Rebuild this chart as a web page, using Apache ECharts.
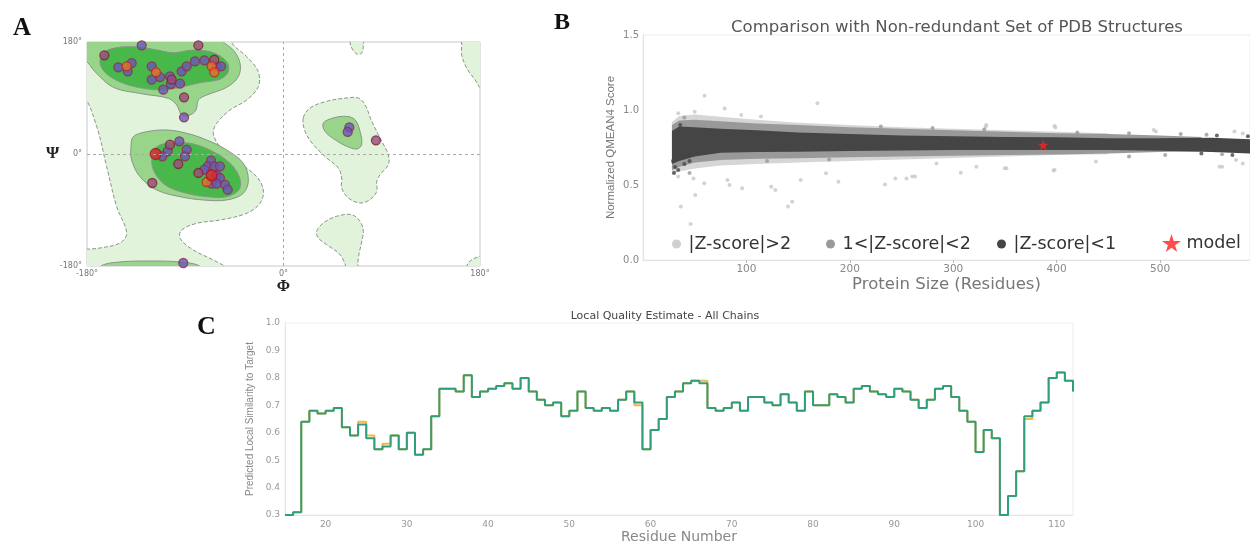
<!DOCTYPE html>
<html>
<head>
<meta charset="utf-8">
<title>Model quality</title>
<style>
  html, body { margin: 0; padding: 0; background: #fff; }
  #chart { width: 1250px; height: 545px; }
</style>
</head>
<body>
<div id="chart"></div>
<script src="https://cdn.jsdelivr.net/npm/echarts@6/dist/echarts.min.js"></script>
<script>
// ---------- A: Ramachandran plot (phi, psi in degrees) ----------
var phiTicks = [-180, 0, 180];
var psiTicks = [-180, 0, 180];

// allowed (light) regions
var allowedLeft = [[-200,200],[-49,200],[-47,178],[-33.7,156.4],[-23.1,132.3],[-23.1,108.2],[-33.7,86.8],[-49,70.7],
  [-61.2,49.3],[-64.3,33.3],[-58.2,11.7],[-39.8,-14.9],[-24.5,-36.5],[-18.5,-57.9],[-21.5,-79.2],[-33.7,-95.3],
  [-58.2,-106.1],[-79.5,-111.4],[-93.2,-122.1],[-94.8,-135.5],[-82.6,-154.3],[-64.3,-170.4],[-51,-185],[-50,-200],
  [-200,-200],[-200,-160],[-168.1,-151.1],[-149.8,-143.0],[-143.6,-127.0],[-152.8,-84.7],[-162.0,-20.4],
  [-171.1,43.9],[-184,95],[-200,100]];
var allowedRightMid = [[18.1,57.9],[24.3,73.9],[39.6,84.7],[57.9,90.0],[68.5,90.0],[74.7,79.2],[80.8,52.6],[90.0,20.4],
  [96.0,-1.1],[96.0,-17.2],[88.4,-33.3],[85.4,-43.9],[85.4,-59.9],[79.2,-73.4],[70.1,-78.7],[59.4,-70.7],[53.3,-54.6],
  [53.3,-38.6],[50.2,-22.5],[39.6,-6.4],[27.3,15.0],[19.7,36.5]];
var allowedTopBlob = [[60,200],[60.9,180],[62.5,170.3],[67.1,160.7],[71.6,162.3],[73.1,173.1],[72,200]];
var allowedTopRight = [[162,200],[163.2,180],[163.2,159.6],[167.8,138.2],[175.4,119.4],[182,104],[200,100],[200,200]];
var allowedBottomMid = [[30.4,-124.2],[36.5,-110.9],[48.7,-100.1],[62.5,-97.5],[70.1,-108.2],[73.1,-124.2],[71,-145.8],
  [68.5,-167.1],[68,-185],[68,-200],[59,-200],[58,-185],[51.8,-161.8],[39.6,-145.8],[31.9,-135]];
var allowedBottomRight = [[165,-200],[167.8,-180],[172.4,-169.9],[182,-164],[200,-160],[200,-200]];

// favoured (medium) regions
var favTop = [[-200,200],[-58,200],[-56,182],[-46,167.1],[-39.8,145.8],[-41.4,124.2],[-52,107.2],[-70.3,94.8],[-78,86.8],
  [-80.2,70.7],[-85.7,62.7],[-93.2,62.7],[-97.8,78.7],[-105.5,89.5],[-128.4,96.4],[-155.9,107.2],[-172.7,132.3],
  [-182,150],[-200,152]];
var favMid = [[-137.6,27.8],[-125.3,35.8],[-107.0,38.6],[-88.7,33.3],[-70.3,22.5],[-52.0,6.4],[-36.8,-14.9],[-32.2,-41.8],
  [-36.8,-63.2],[-52.0,-73.9],[-73.5,-73.9],[-94.8,-68.6],[-116.1,-57.9],[-131.5,-36.5],[-139.1,-9.6],[-139.7,11.7]];
var favBottom = [[-172,-200],[-168,-181],[-153,-174],[-122,-172],[-92,-174],[-76,-181],[-72,-200]];
var favRight = [[36.5,49.8],[45.6,57.9],[57.9,60.5],[65.5,55.1],[70.1,36.5],[71.6,15.0],[67.1,8.0],[57.9,12.3],
  [47.2,23.0],[38.0,36.5]];

// core (dark) regions
var coreTop = [[-165.1,161.8],[-155.9,169.9],[-137.6,172.4],[-119.3,168.3],[-100.9,162.8],[-82.6,167.1],[-64.3,162.8],
  [-52.0,148.3],[-50.6,132.3],[-58.2,120.0],[-76.5,114.6],[-94.8,107.2],[-110.1,102.9],[-128.4,105.6],[-146.7,113.6],
  [-162.0,128.6],[-168.1,145.8]];
var coreMid = [[-116.1,11.7],[-100.9,18.2],[-82.6,16.1],[-64.3,3.7],[-49.0,-14.9],[-40.5,-36.5],[-40.5,-56.7],[-52.0,-68.6],
  [-70.3,-68.6],[-88.7,-63.2],[-107.0,-51.4],[-117.7,-31.0],[-120.7,-9.6]];

// residues
var resPurple = [[-129.9,174.7],[-151.3,139.3],[-139.1,146.2],[-142.7,132.9],[-120.7,140.9],[-113.1,123.7],
  [-120.7,119.4],[-110.1,103.3],[-104.0,124.9],[-103.1,112.5],[-94.8,113.0],[-93.3,132.9],[-88.7,140.9],[-81.1,149.0],
  [-72.5,150.6],[-61.2,140.9],[-57.3,140.9],[-91.1,59.0],[-95.4,20.4],[-88.7,6.9],[-106.1,4.3],[-111.0,-3.7],
  [-90.2,-3.7],[-66.4,-10.8],[-69.4,-19.8],[-63.4,-19.8],[-58.2,-19.8],[-72.5,-25.2],[-61.2,-34.2],[-58.2,-38.6],
  [-65.8,-47.7],[-61.2,-47.7],[-53.6,-49.3],[-51.1,-57.4],[-91.8,-175.2],[60.3,42.9],[58.8,35.4]];
var resMaroon = [[-164.1,158.6],[-78.0,174.7],[-102.4,119.4],[-63.4,151.5],[-91.1,91.1],[-104.0,15.0],[-96.4,-16.1],
  [-78.0,-30.5],[-120.2,-46.6],[84.7,22.0]];
var resOrange = [[-143.6,140.9],[-116.8,131.3],[-65.8,140.9],[-63.4,131.3],[-70.4,-45.0]];
var resRed = [[-117.1,0],[-65.8,-34.2]];

// ---------- B: QMEAN comparison ----------
var sizeTicks = [100, 200, 300, 400, 500];
var scoreTicks = [0, 0.5, 1.0, 1.5];
var lightX = [28, 35, 50, 75, 110, 150, 200, 250, 300, 350, 400, 450];
var lightTop = [0.92, 0.96, 0.97, 0.955, 0.935, 0.915, 0.9, 0.885, 0.875, 0.865, 0.855, 0.845];
var lightBot = [0.57, 0.59, 0.61, 0.63, 0.64, 0.65, 0.66, 0.67, 0.68, 0.69, 0.70, 0.705];
var medX = [28, 35, 50, 75, 110, 150, 200, 250, 300, 350, 400, 450, 500, 540];
var medTop = [0.9, 0.93, 0.935, 0.925, 0.91, 0.9, 0.885, 0.875, 0.865, 0.855, 0.845, 0.84, 0.83, 0.82];
var medBot = [0.6, 0.62, 0.65, 0.667, 0.675, 0.678, 0.685, 0.69, 0.695, 0.70, 0.703, 0.71, 0.72, 0.725];
var darkX = [28, 35, 50, 75, 110, 150, 200, 250, 300, 350, 400, 450, 500, 550, 590];
var darkTop = [0.86, 0.89, 0.885, 0.875, 0.865, 0.85, 0.84, 0.83, 0.825, 0.82, 0.818, 0.812, 0.812, 0.815, 0.805];
var darkBot = [0.64, 0.66, 0.69, 0.715, 0.72, 0.722, 0.727, 0.73, 0.733, 0.733, 0.733, 0.733, 0.728, 0.72, 0.71];
var lightPts = [[59.5,1.095],[168.7,1.045],[79,1.01],[34,0.978],[50,0.989],[95,0.967],[114,0.956],[331.5,0.889],
  [398.7,0.884],[494,0.867],[572,0.856],[332,0.9],[398,0.893],[496,0.856],[580,0.844],
  [34,0.556],[48.8,0.544],[59.3,0.511],[81.6,0.533],[83.7,0.5],[95.9,0.478],[50.5,0.433],[36.6,0.356],[46,0.24],
  [124,0.489],[128,0.467],[144.3,0.389],[140.2,0.356],[152.5,0.533],[177,0.578],[189,0.522],[234,0.504],[244,0.544],
  [260.4,0.556],[307.3,0.582],[350,0.611],[397,0.596],[560,0.622],[580,0.644],[254.8,0.544],[263,0.556],
  [283.8,0.644],[322.4,0.622],[351.4,0.611],[398,0.6],[438,0.656],[557.5,0.622],[573.6,0.667]];
var medPts = [[520,0.84],[545,0.835],[470,0.69],[505,0.7],[560,0.705],[40,0.95],[45,0.58],[230,0.89],[280,0.88],
  [330,0.87],[120,0.66],[180,0.67],[420,0.85],[470,0.845]];
var darkPts = [[30,0.58],[31,0.62],[34,0.6],[29,0.66],[40,0.64],[45,0.66],[36,0.9],[555,0.83],[570,0.7],[585,0.825],[540,0.71]];
var modelPt = [[387, 0.767]];

// ---------- C: local quality ----------
var residueStart = 15;
var residueTicks = [20, 30, 40, 50, 60, 70, 80, 90, 100, 110];
var simTicks = [0.3, 0.4, 0.5, 0.6, 0.7, 0.8, 0.9, 1.0];
var localScore = [0.30, 0.31, 0.64, 0.68, 0.67, 0.68, 0.69, 0.62, 0.59, 0.63, 0.58, 0.54, 0.55, 0.59, 0.54, 0.60,
  0.52, 0.54, 0.66, 0.76, 0.76, 0.75, 0.81, 0.73, 0.75, 0.76, 0.77, 0.78, 0.76, 0.80, 0.75, 0.72, 0.70, 0.71, 0.66,
  0.68, 0.75, 0.69, 0.68, 0.69, 0.68, 0.72, 0.75, 0.71, 0.54, 0.61, 0.65, 0.73, 0.75, 0.78, 0.79, 0.78, 0.69, 0.68,
  0.69, 0.71, 0.68, 0.73, 0.73, 0.71, 0.70, 0.74, 0.71, 0.68, 0.75, 0.70, 0.70, 0.74, 0.73, 0.71, 0.76, 0.77, 0.75,
  0.74, 0.73, 0.76, 0.75, 0.72, 0.69, 0.72, 0.76, 0.77, 0.73, 0.68, 0.64, 0.53, 0.61, 0.58, 0.30, 0.37, 0.46, 0.66,
  0.68, 0.71, 0.80, 0.82, 0.79, 0.75];
// residues where the second chain differs
var chainBDiff = [[24, 0.64], [25, 0.59], [27, 0.56], [58, 0.70], [66, 0.79], [106, 0.65]];

var chainA = localScore.map(function (v, i) { return [residueStart + i, v]; });
var chainB = chainA.map(function (p) {
  var d = chainBDiff.filter(function (q) { return q[0] === p[0]; });
  return d.length ? [p[0], d[0][1]] : p;
});

var STAR = 'path://M50,0L61,35L98,35L68,57L79,91L50,70L21,91L32,57L2,35L39,35Z';

function polySeries(verts, gi, fill, stroke, dash, smooth, name, opacity) {
  return {
    type: 'custom', name: name, xAxisIndex: gi, yAxisIndex: gi, clip: true, silent: true,
    itemStyle: { color: fill },
    data: verts,
    renderItem: function (params, api) {
      if (params.dataIndex !== 0) return;
      var pts = verts.map(function (v) { return api.coord(v); });
      return {
        type: 'polygon',
        shape: { points: pts, smooth: smooth },
        style: { fill: fill, stroke: stroke, lineWidth: stroke ? 1 : 0, lineDash: dash, opacity: opacity == null ? 1 : opacity }
      };
    }
  };
}

function band(xs, top, bot) {
  var pts = xs.map(function (x, i) { return [x, top[i]]; });
  for (var i = xs.length - 1; i >= 0; i--) pts.push([xs[i], bot[i]]);
  return pts;
}

var LIGHT = '#e2f3dc', MED = '#98d58a', DARK = '#48b84b', EDGE = '#8a948a';
var G1 = '#cfcfcf', G2 = '#999999', G3 = '#454545';

var chart = echarts.init(document.getElementById('chart'));
var option = {
  animation: false,
  backgroundColor: '#fff',
  textStyle: { fontFamily: 'DejaVu Sans' },
  title: [
    { text: 'Comparison with Non-redundant Set of PDB Structures', left: 952, top: 14, textAlign: 'center',
      textStyle: { fontSize: 16.5, fontWeight: 'normal', color: '#555', fontFamily: 'DejaVu Sans' } },
    { text: 'Local Quality Estimate - All Chains', left: 660, top: 306, textAlign: 'center',
      textStyle: { fontSize: 11, fontWeight: 'normal', color: '#444', fontFamily: 'DejaVu Sans' } }
  ],
  graphic: [
    { type: 'text', left: 13, top: 16, style: { text: 'A', font: 'bold 25px "Liberation Serif"', fill: '#111' } },
    { type: 'text', left: 554, top: 11, style: { text: 'B', font: 'bold 24px "Liberation Serif"', fill: '#111' } },
    { type: 'text', left: 197, top: 314, style: { text: 'C', font: 'bold 26px "Liberation Serif"', fill: '#111' } },
    { type: 'text', left: 46, top: 145, style: { text: 'Ψ', font: 'bold 17px "Liberation Serif"', fill: '#222' } }
  ],
  legend: [
    { data: [{ name: '|Z-score|>2', icon: 'circle' }], left: 667, top: 230, itemWidth: 14, itemHeight: 9,
      textStyle: { fontSize: 17.5, color: '#333' }, selectedMode: false },
    { data: [{ name: '1<|Z-score|<2', icon: 'circle' }], left: 821, top: 230, itemWidth: 14, itemHeight: 9,
      textStyle: { fontSize: 17.5, color: '#333' }, selectedMode: false },
    { data: [{ name: '|Z-score|<1', icon: 'circle' }], left: 992, top: 230, itemWidth: 14, itemHeight: 9,
      textStyle: { fontSize: 17.5, color: '#333' }, selectedMode: false },
    { data: [{ name: 'model', icon: STAR }], left: 1157, top: 229, itemWidth: 20, itemHeight: 18,
      textStyle: { fontSize: 17.5, color: '#333' }, selectedMode: false }
  ],
  grid: [
    { left: 87, top: 42, width: 393, height: 224, show: true, borderColor: '#c8c8c8', backgroundColor: '#fff' },
    { left: 643, top: 35, width: 607, height: 225, show: true, borderColor: '#ececec' },
    { left: 285, top: 323, width: 788, height: 198, show: true, borderColor: '#eeeeee' }
  ],
  xAxis: [
    { gridIndex: 0, type: 'value', min: -180, max: 180,
      axisLine: { show: false }, axisTick: { show: false }, splitLine: { show: false },
      axisLabel: { customValues: phiTicks, formatter: function (v) { return v + '°'; }, fontSize: 8, color: '#777', margin: 4 },
      name: 'Φ', nameLocation: 'middle', nameGap: 12,
      nameTextStyle: { fontFamily: 'Liberation Serif', fontSize: 16, fontWeight: 'bold', color: '#222' } },
    { gridIndex: 1, type: 'value', min: 0, max: 587,
      axisLine: { show: true, lineStyle: { color: '#e4e4e4' } },
      axisTick: { show: true, customValues: sizeTicks, length: 3, lineStyle: { color: '#bbb' } },
      splitLine: { show: false },
      axisLabel: { customValues: sizeTicks, fontSize: 10.5, color: '#888', margin: 4 },
      name: 'Protein Size (Residues)', nameLocation: 'middle', nameGap: 9,
      nameTextStyle: { fontSize: 16.5, color: '#777' } },
    { gridIndex: 2, type: 'value', min: 15, max: 112,
      axisLine: { show: true, lineStyle: { color: '#e6e6e6' } }, axisTick: { show: false }, splitLine: { show: false },
      axisLabel: { customValues: residueTicks, fontSize: 9, color: '#999', margin: 5 },
      name: 'Residue Number', nameLocation: 'middle', nameGap: 11,
      nameTextStyle: { fontSize: 14, color: '#888' } }
  ],
  yAxis: [
    { gridIndex: 0, type: 'value', min: -180, max: 180,
      axisLine: { show: false }, axisTick: { show: false }, splitLine: { show: false },
      axisLabel: { customValues: psiTicks, formatter: function (v) { return v + '°'; }, fontSize: 8, color: '#777', margin: 5 } },
    { gridIndex: 1, type: 'value', min: 0, max: 1.5,
      axisLine: { show: true, lineStyle: { color: '#e4e4e4' } }, axisTick: { show: false }, splitLine: { show: false },
      axisLabel: { customValues: scoreTicks, formatter: function (v) { return v.toFixed(1); }, fontSize: 10, color: '#888', margin: 4 },
      name: 'Normalized QMEAN4 Score', nameLocation: 'middle', nameGap: 26,
      nameTextStyle: { fontFamily: 'Liberation Sans', fontSize: 11.5, color: '#777' } },
    { gridIndex: 2, type: 'value', min: 0.3, max: 1.0,
      axisLine: { show: true, lineStyle: { color: '#e6e6e6' } }, axisTick: { show: false }, splitLine: { show: false },
      axisLabel: { customValues: simTicks, formatter: function (v) { return v.toFixed(1); }, fontSize: 9, color: '#999', margin: 5 },
      name: 'Predicted Local Similarity to Target', nameLocation: 'middle', nameGap: 22,
      nameTextStyle: { fontFamily: 'Liberation Sans Narrow, Liberation Sans', fontSize: 10, color: '#888' } }
  ],
  series: [
    // A
    polySeries(allowedLeft, 0, LIGHT, EDGE, [4, 2], 0.35),
    polySeries(allowedRightMid, 0, LIGHT, EDGE, [4, 2], 0.35),
    polySeries(allowedTopBlob, 0, LIGHT, EDGE, [4, 2], 0.35),
    polySeries(allowedTopRight, 0, LIGHT, EDGE, [4, 2], 0.35),
    polySeries(allowedBottomMid, 0, LIGHT, EDGE, [4, 2], 0.35),
    polySeries(allowedBottomRight, 0, LIGHT, EDGE, [4, 2], 0.35),
    polySeries(favTop, 0, MED, EDGE, null, 0.35),
    polySeries(favMid, 0, MED, EDGE, null, 0.35),
    polySeries(favBottom, 0, MED, EDGE, null, 0.35),
    polySeries(favRight, 0, MED, EDGE, null, 0.35),
    polySeries(coreTop, 0, DARK, EDGE, null, 0.35),
    polySeries(coreMid, 0, DARK, EDGE, null, 0.35),
    { type: 'scatter', xAxisIndex: 0, yAxisIndex: 0, data: [[0, 0]], symbolSize: 0, silent: true, z: 3,
      markLine: { silent: true, symbol: 'none', label: { show: false },
        lineStyle: { color: '#aaa', type: [3, 3], width: 1 },
        data: [{ xAxis: 0 }, { yAxis: 0 }] } },
    { type: 'scatter', xAxisIndex: 0, yAxisIndex: 0, data: resPurple, symbolSize: 9, z: 4,
      itemStyle: { color: '#6d55b8', borderColor: '#8e2d4c', borderWidth: 1.3 } },
    { type: 'scatter', xAxisIndex: 0, yAxisIndex: 0, data: resMaroon, symbolSize: 9, z: 4,
      itemStyle: { color: '#9c4a78', borderColor: '#7a2238', borderWidth: 1.3 } },
    { type: 'scatter', xAxisIndex: 0, yAxisIndex: 0, data: resOrange, symbolSize: 9, z: 4,
      itemStyle: { color: '#ef6a2a', borderColor: '#a8302a', borderWidth: 1.3 } },
    { type: 'scatter', xAxisIndex: 0, yAxisIndex: 0, data: resRed, symbolSize: 11, z: 4,
      itemStyle: { color: '#e4222e', borderColor: '#9a1b2a', borderWidth: 1.3 } },
    // B
    polySeries(band(lightX, lightTop, lightBot), 1, G1, null, null, 0, '|Z-score|>2', 0.85),
    { type: 'scatter', name: '|Z-score|>2', xAxisIndex: 1, yAxisIndex: 1, data: lightPts, symbolSize: 4,
      itemStyle: { color: '#c8c8c8' }, silent: true },
    polySeries(band(medX, medTop, medBot), 1, G2, null, null, 0, '1<|Z-score|<2'),
    { type: 'scatter', name: '1<|Z-score|<2', xAxisIndex: 1, yAxisIndex: 1, data: medPts, symbolSize: 4,
      itemStyle: { color: G2 }, silent: true },
    polySeries(band(darkX, darkTop, darkBot), 1, G3, null, null, 0, '|Z-score|<1'),
    { type: 'scatter', name: '|Z-score|<1', xAxisIndex: 1, yAxisIndex: 1, data: darkPts, symbolSize: 4,
      itemStyle: { color: G3 }, silent: true },
    { type: 'scatter', name: 'model', xAxisIndex: 1, yAxisIndex: 1, data: modelPt, symbol: STAR, symbolSize: 11,
      itemStyle: { color: '#ff1f1f' }, z: 5 },
    // C
    { type: 'line', xAxisIndex: 2, yAxisIndex: 2, data: chainB, step: 'end', showSymbol: false, silent: true,
      lineStyle: { color: '#f7b547', width: 2 } },
    { type: 'line', xAxisIndex: 2, yAxisIndex: 2, data: chainA, step: 'end', showSymbol: false, silent: true,
      lineStyle: { color: '#2f9e7a', width: 2 } }
  ]
};
chart.setOption(option);
</script>
</body>
</html>
